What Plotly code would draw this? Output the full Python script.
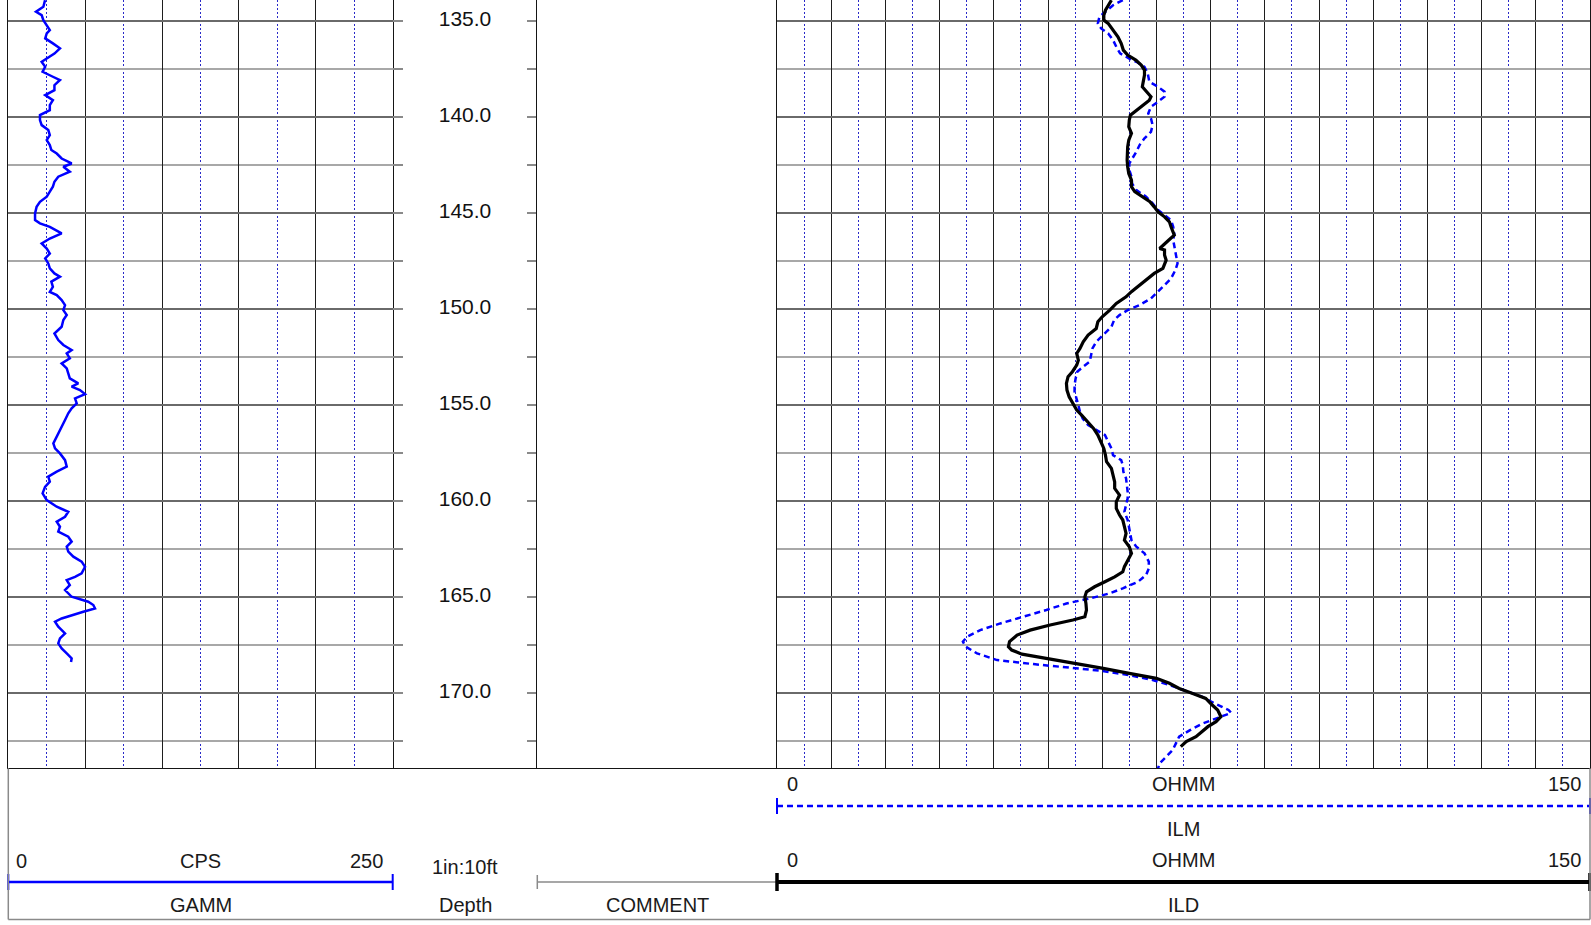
import plotly.graph_objects as go

# ---------------- data ----------------
GR_DEPTH = [133.91, 134.25, 134.51, 134.69, 134.95, 135.21, 135.47, 135.64, 135.90, 136.16,
            136.42, 136.69, 136.95, 137.12, 137.38, 137.64, 137.90, 138.07, 138.34, 138.60,
            138.86, 139.12, 139.38, 139.64, 139.90, 140.16, 140.42, 140.68, 140.94, 141.20,
            141.46, 141.72, 141.90, 142.16, 142.42, 142.59, 142.85, 143.11, 143.37, 143.63,
            143.89, 144.15, 144.42, 144.68, 145.02, 145.37, 145.54, 145.72, 146.06, 146.33,
            146.59, 146.85, 147.11, 147.37, 147.63, 147.89, 148.15, 148.32, 148.58, 148.85,
            149.11, 149.28, 149.54, 149.80, 150.06, 150.32, 150.58, 150.93, 151.28, 151.62,
            151.88, 152.14, 152.32, 152.58, 152.84, 153.10, 153.36, 153.62, 153.88, 154.05,
            154.23, 154.44, 154.66, 154.92, 155.18, 155.44, 155.79, 156.14, 156.49, 156.75,
            157.01, 157.27, 157.53, 157.88, 158.22, 158.48, 158.74, 159.00, 159.27, 159.61,
            159.96, 160.31, 160.57, 160.83, 161.09, 161.35, 161.61, 161.87, 162.13, 162.39,
            162.65, 162.91, 163.17, 163.44, 163.78, 163.96, 164.13, 164.39, 164.65, 165.00,
            165.26, 165.43, 165.61, 165.78, 165.95, 166.13, 166.30, 166.56, 166.91, 167.17,
            167.43, 167.69, 167.95, 168.21, 168.40]
GR_VALUE = [23.9, 22.8, 18.0, 21.7, 22.8, 25.0, 27.0, 25.0, 24.0, 29.0,
            33.6, 30.0, 25.0, 21.7, 24.0, 22.3, 29.0, 33.6, 30.0, 30.0,
            24.0, 29.0, 27.0, 27.0, 20.6, 20.6, 21.7, 26.0, 27.0, 25.0,
            27.0, 28.0, 31.5, 34.7, 41.2, 35.8, 40.0, 32.5, 30.0, 29.0,
            27.0, 25.0, 20.6, 18.4, 17.4, 17.4, 20.6, 27.0, 34.7, 27.0,
            21.7, 25.0, 27.0, 24.0, 26.0, 27.0, 30.0, 33.6, 28.0, 29.0,
            27.0, 31.5, 34.7, 36.9, 35.8, 38.0, 35.8, 34.7, 30.0, 32.5,
            35.8, 41.2, 38.0, 40.0, 34.7, 38.0, 39.0, 40.0, 45.5, 41.2,
            46.6, 49.9, 43.4, 44.5, 41.2, 39.0, 36.9, 34.7, 32.5, 30.4,
            29.3, 30.4, 33.6, 36.9, 38.0, 31.5, 26.0, 27.0, 23.9, 22.3,
            25.0, 31.5, 39.0, 36.9, 31.5, 33.6, 32.5, 39.0, 41.2, 38.0,
            39.0, 42.3, 47.7, 49.9, 47.7, 43.4, 38.0, 40.0, 36.9, 41.2,
            52.0, 55.3, 56.4, 48.8, 41.2, 34.7, 30.4, 32.5, 36.9, 33.6,
            32.5, 34.7, 38.0, 41.2, 40.8]

ILD_DEPTH = [133.91, 134.17, 134.43, 134.69, 134.95, 135.12, 135.47, 135.82, 136.16, 136.51,
             136.77, 137.03, 137.29, 137.55, 137.81, 138.16, 138.42, 138.68, 138.94, 139.12,
             139.38, 139.64, 139.90, 140.16, 140.51, 140.85, 141.20, 141.55, 141.90, 142.24,
             142.59, 142.94, 143.29, 143.63, 143.89, 144.15, 144.41, 144.68, 144.94, 145.20,
             145.46, 145.72, 145.98, 146.15, 146.41, 146.67, 146.85, 146.93, 147.19, 147.46,
             147.89, 148.15, 148.41, 148.76, 149.10, 149.37, 149.71, 150.06, 150.41, 150.67,
             151.02, 151.36, 151.71, 152.06, 152.32, 152.67, 152.93, 153.27, 153.53, 153.88,
             154.23, 154.58, 154.92, 155.27, 155.53, 155.88, 156.23, 156.57, 156.92, 157.27,
             157.62, 157.96, 158.31, 158.66, 159.01, 159.35, 159.70, 160.05, 160.40, 160.74,
             161.00, 161.35, 161.70, 162.05, 162.39, 162.74, 163.09, 163.43, 163.70, 163.96,
             164.22, 164.48, 164.74, 165.00, 165.35, 165.69, 166.04, 166.21, 166.47, 166.74,
             167.00, 167.34, 167.60, 167.78, 167.99, 168.21, 168.47, 168.73, 168.99, 169.25,
             169.51, 169.78, 170.04, 170.30, 170.64, 170.90, 171.25, 171.51, 171.77, 172.03,
             172.29, 172.55, 172.81]
ILD_VALUE = [61.7, 61.1, 60.6, 60.3, 60.3, 61.1, 62.0, 62.9, 63.5, 63.9,
             64.7, 66.2, 67.2, 67.8, 67.8, 67.6, 67.4, 68.2, 69.0, 68.7,
             67.5, 66.3, 65.2, 65.0, 64.9, 65.4, 64.9, 64.7, 64.6, 64.6,
             64.7, 64.9, 65.4, 65.4, 66.0, 67.5, 68.8, 69.6, 70.3, 71.5,
             72.4, 72.7, 73.0, 73.3, 72.3, 71.2, 70.6, 71.5, 71.5, 71.8,
             71.2, 69.6, 68.4, 66.9, 65.4, 64.4, 62.6, 61.4, 60.0, 59.2,
             58.9, 57.4, 56.5, 55.9, 55.3, 55.6, 55.3, 54.5, 53.7, 53.4,
             53.5, 53.9, 54.6, 55.3, 56.2, 57.4, 58.4, 59.2, 59.8, 60.3,
             60.6, 60.8, 61.7, 62.0, 62.3, 62.3, 63.2, 62.6, 62.6, 63.2,
             63.8, 64.1, 64.4, 64.1, 65.0, 65.4, 64.7, 64.1, 63.8, 62.3,
             60.5, 58.6, 57.1, 56.8, 57.0, 57.1, 56.8, 54.6, 50.4, 46.7,
             44.3, 42.9, 42.7, 43.3, 45.2, 49.7, 55.3, 60.2, 65.0, 70.0,
             72.4, 74.2, 76.7, 79.1, 80.3, 81.3, 81.9, 81.0, 79.5, 78.5,
             77.3, 75.5, 74.5]

ILM_DEPTH = [133.91, 134.17, 134.51, 134.77, 135.12, 135.38, 135.64, 135.99, 136.34, 136.68,
             136.95, 137.12, 137.38, 137.73, 138.16, 138.42, 138.68, 138.94, 139.20, 139.46,
             139.81, 140.07, 140.42, 140.77, 141.11, 141.46, 141.81, 142.16, 142.42, 142.76,
             143.11, 143.46, 143.81, 144.15, 144.50, 144.85, 145.11, 145.37, 145.72, 146.07,
             146.41, 146.76, 147.11, 147.63, 147.98, 148.41, 148.76, 149.10, 149.45, 149.80,
             150.06, 150.32, 150.58, 150.93, 151.36, 151.71, 152.06, 152.41, 152.75, 153.01,
             153.27, 153.62, 153.97, 154.32, 154.66, 155.01, 155.36, 155.71, 156.05, 156.31,
             156.57, 156.92, 157.27, 157.62, 157.88, 158.14, 158.48, 158.83, 159.18, 159.53,
             159.87, 160.22, 160.57, 161.00, 161.52, 162.05, 162.39, 162.74, 163.17, 163.52,
             163.87, 164.22, 164.56, 164.82, 165.09, 165.35, 165.69, 166.04, 166.39, 166.74,
             167.08, 167.34, 167.60, 167.95, 168.30, 168.51, 168.68, 168.85, 169.08, 169.34,
             169.60, 169.86, 170.21, 170.56, 170.90, 171.05, 171.25, 171.60, 171.95, 172.29,
             172.64, 172.99, 173.34, 173.68, 173.94]
ILM_VALUE = [63.8, 62.0, 60.6, 59.5, 59.2, 59.8, 61.1, 62.0, 62.6, 63.3,
             65.0, 66.3, 67.8, 68.4, 68.7, 70.3, 71.5, 71.5, 70.3, 69.0,
             68.5, 69.0, 69.3, 69.0, 67.8, 66.9, 66.3, 65.5, 65.0, 65.0,
             65.4, 65.5, 66.3, 68.1, 69.3, 70.3, 71.5, 72.7, 73.1, 73.3,
             73.1, 73.3, 73.6, 73.9, 73.5, 72.7, 71.5, 70.3, 69.0, 66.9,
             64.7, 63.2, 62.2, 61.7, 60.2, 58.9, 58.2, 58.0, 57.7, 56.5,
             55.4, 55.1, 54.9, 54.9, 55.3, 55.6, 55.9, 56.4, 57.4, 58.9,
             60.5, 61.1, 61.7, 62.0, 63.5, 63.8, 63.9, 64.4, 64.6, 64.7,
             64.7, 64.4, 64.1, 64.7, 65.0, 65.4, 66.3, 67.8, 68.6, 68.6,
             68.1, 66.6, 63.8, 61.4, 57.7, 53.4, 49.7, 45.5, 41.2, 37.5,
             35.1, 34.3, 34.8, 36.9, 40.6, 47.3, 53.4, 59.5, 65.0, 69.3,
             72.4, 74.8, 78.4, 80.8, 83.3, 83.8, 81.9, 78.6, 76.2, 74.2,
             73.6, 73.0, 71.8, 70.6, 70.3]

DEPTH_LABELS = [135, 140, 145, 150, 155, 160, 165, 170]
DEPTH_RANGE = [173.94, 133.9]          # reversed (depth increases downward)
GR_RANGE = [0, 250]
RES_RANGE = [0, 150]
GR_NAME, GR_UNIT = "GAMM", "CPS"
ILM_NAME, ILD_NAME, RES_UNIT = "ILM", "ILD", "OHMM"
DEPTH_NAME, DEPTH_SCALE = "Depth", "1in:10ft"
COMMENT_NAME = "COMMENT"

# ---------------- layout helpers ----------------
W, H = 1591, 925
FONT = "Liberation Sans, Arial, Helvetica, sans-serif"


def py(px):
    return 1 - px / H


dom_gr = [8.3 / W, 392.7 / W]
dom_dp = [392.7 / W, 537.3 / W]
dom_cm = [537.3 / W, 777.0 / W]
dom_rs = [777.0 / W, 1590.0 / W]
ydom = [py(768.3), 1.0]

MAJ_V = "#1e1e1e"
MIN_V = "#2a2ac8"
MAJ_H = "#6a6a6a"
MIN_H = "#a8a8a8"
BORDER = "#151515"

fig = go.Figure()

fig.add_trace(go.Scatter(x=GR_VALUE, y=GR_DEPTH, mode="lines", xaxis="x", yaxis="y",
                         line=dict(color="#0000ff", width=2.5), name=GR_NAME))
fig.add_trace(go.Scatter(x=[0.5] * len(DEPTH_LABELS), y=DEPTH_LABELS, mode="text",
                         text=[f"{d:.1f}" for d in DEPTH_LABELS], xaxis="x2", yaxis="y2",
                         textfont=dict(family=FONT, size=21, color="#111111"),
                         cliponaxis=False, name=DEPTH_NAME))
fig.add_trace(go.Scatter(x=[], y=[], mode="lines", xaxis="x3", yaxis="y3", name=COMMENT_NAME))
fig.add_trace(go.Scatter(x=ILM_VALUE, y=ILM_DEPTH, mode="lines", xaxis="x4", yaxis="y4",
                         line=dict(color="#0000ff", width=2.5, dash="6px,4px"), name=ILM_NAME))
fig.add_trace(go.Scatter(x=ILD_VALUE, y=ILD_DEPTH, mode="lines", xaxis="x4", yaxis="y4",
                         line=dict(color="#000000", width=3.2), name=ILD_NAME))


def xax(dom, rng, grid, anchor, dmaj=None, dmin=None):
    d = dict(domain=dom, range=rng, anchor=anchor, showticklabels=False, ticks="",
             zeroline=False, showline=True, mirror=True, linecolor=BORDER, linewidth=1.2,
             fixedrange=True)
    if grid:
        d.update(showgrid=True, dtick=dmaj, tick0=0, gridcolor=MAJ_V, gridwidth=1,
                 minor=dict(dtick=dmin, tick0=0, showgrid=True, gridcolor=MIN_V,
                            griddash="2px,2px", gridwidth=1))
    else:
        d.update(showgrid=False)
    return d


def yax(anchor, grid, line=True, mirror=False):
    d = dict(domain=ydom, range=DEPTH_RANGE, anchor=anchor, showticklabels=False,
             zeroline=False, showline=line, mirror=mirror, linecolor=BORDER, linewidth=1.2,
             fixedrange=True, ticks="")
    if grid:
        d.update(showgrid=True, dtick=5, tick0=0, gridcolor=MAJ_H, gridwidth=2,
                 minor=dict(dtick=2.5, tick0=0, showgrid=True, gridcolor=MIN_H, gridwidth=1.5))
    else:
        d.update(showgrid=False)
    return d


# each vertical track border drawn exactly once
y1 = yax("x", True, line=True, mirror=True)          # left edge + GAMM/Depth border
y2 = yax("x2", False, line=False)                    # depth track: ticks only
y2.update(ticks="inside", ticklen=10, tickwidth=1.5, tickcolor="#8a8a8a", dtick=2.5, tick0=0,
          mirror="ticks")
y3 = yax("x3", False, line=True, mirror=False)       # Depth/Comment border
y4 = yax("x4", True, line=True, mirror=True)         # Comment/Res border + right edge

fig.update_layout(
    width=W, height=H, margin=dict(l=0, r=0, t=0, b=0),
    paper_bgcolor="white", plot_bgcolor="white", showlegend=False, hovermode=False,
    font=dict(family=FONT, size=20, color="#1a1a1a"),
    xaxis=xax(dom_gr, GR_RANGE, True, "y", 50, 25),
    xaxis2=xax(dom_dp, [0, 1], False, "y2"),
    xaxis3=xax(dom_cm, [0, 1], False, "y3"),
    xaxis4=xax(dom_rs, RES_RANGE, True, "y4", 10, 5),
    yaxis=y1, yaxis2=y2, yaxis3=y3, yaxis4=y4,
)

# ---------------- header (legend area) ----------------
ann = []


def label(text, xref, x, ypx, anchor="center", shift=0):
    ann.append(dict(text=text, xref=xref, x=x, yref="paper", y=py(ypx), xanchor=anchor,
                    yanchor="middle", showarrow=False, xshift=shift,
                    font=dict(family=FONT, size=20, color="#1a1a1a")))


# GAMM column
label(str(GR_RANGE[0]), "x domain", 0, 861, "left", 6)
label(GR_UNIT, "x domain", 0.5, 861)
label(str(GR_RANGE[1]), "x domain", 1, 861, "right", -8)
label(GR_NAME, "x domain", 0.5, 905)
# Depth column
label(DEPTH_SCALE, "x2 domain", 0.5, 867)
label(DEPTH_NAME, "x2 domain", 0.5, 905)
# Comment column
label(COMMENT_NAME, "x3 domain", 0.5, 905)
# Resistivity column
for ytxt in (784, 860):
    label(str(RES_RANGE[0]), "x4 domain", 0, ytxt, "left", 8)
    label(RES_UNIT, "x4 domain", 0.5, ytxt)
    label(str(RES_RANGE[1]), "x4 domain", 1, ytxt, "right", -7)
label(ILM_NAME, "x4 domain", 0.5, 829)
label(ILD_NAME, "x4 domain", 0.5, 905)

shapes = []


def hline(xref, ypx, color, width, dash="solid"):
    shapes.append(dict(type="line", xref=xref, x0=0, x1=1, yref="paper", y0=py(ypx), y1=py(ypx),
                       line=dict(color=color, width=width, dash=dash)))


def vtick(xref, x, ytop, ybot, color, width):
    shapes.append(dict(type="line", xref=xref, x0=x, x1=x, yref="paper", y0=py(ytop), y1=py(ybot),
                       line=dict(color=color, width=width)))


hline("x domain", 882, "#0000ff", 2.5)
vtick("x domain", 0, 874, 890, "#0000ff", 2)
vtick("x domain", 1, 874, 890, "#0000ff", 2)

hline("x3 domain", 882, "#8a8a8a", 1.5)
vtick("x3 domain", 0, 875, 889, "#8a8a8a", 1.5)

hline("x4 domain", 806, "#0000ff", 2.5, "6px,4px")
vtick("x4 domain", 0, 798, 814, "#0000ff", 2)
vtick("x4 domain", 1, 798, 814, "#0000ff", 2)

hline("x4 domain", 882, "#000000", 4)
vtick("x4 domain", 0, 873, 891, "#000000", 3.5)
vtick("x4 domain", 1, 873, 891, "#000000", 3.5)

# header frame
vtick("x domain", 0, 768.3, 919.5, "#8a8a8a", 1.5)
vtick("x4 domain", 1, 768.3, 919.5, "#8a8a8a", 1.5)
shapes.append(dict(type="line", xref="x domain", x0=0, yref="paper", y0=py(919.5), y1=py(919.5),
                   x1=(dom_rs[1] - dom_gr[0]) / (dom_gr[1] - dom_gr[0]),
                   line=dict(color="#8a8a8a", width=1.5)))

fig.update_layout(annotations=ann, shapes=shapes)

fig.write_html("out.html", config={"displayModeBar": False},
               post_script="document.body.style.margin='0px';document.body.style.overflow='hidden';")
